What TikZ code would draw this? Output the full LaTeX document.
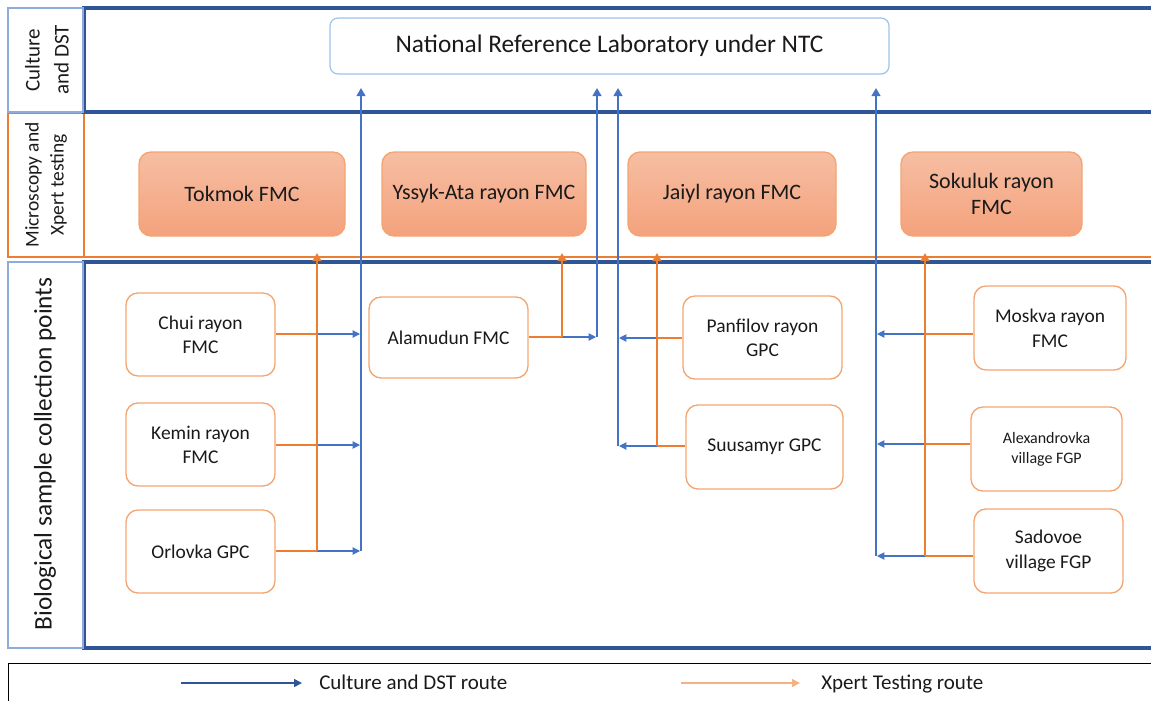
\documentclass[tikz,border=0pt]{standalone}
\usepackage{fontspec}
\setmainfont{Carlito}
\usetikzlibrary{arrows.meta}
\definecolor{frameblue}{HTML}{2F5597}
\definecolor{lineblue}{HTML}{4472C4}
\definecolor{lineorange}{HTML}{ED7D31}
\definecolor{boxorange}{HTML}{F4A470}
\definecolor{labblue}{HTML}{9DC3E6}
\definecolor{lblblue}{HTML}{8FAADC}
\definecolor{fillTop}{HTML}{F6BEA3}
\definecolor{fillBot}{HTML}{F4A27C}
\definecolor{legorange}{HTML}{F4B183}
\definecolor{txt}{HTML}{1A1A1A}
\begin{document}
\begin{tikzpicture}[x=0.75pt,y=-0.75pt,
  frame/.style={draw=frameblue,line width=2.3pt},
  lbl/.style={rotate=90,align=center,text=txt},
  site/.style={draw=boxorange,line width=1pt,rounded corners=9pt,align=center,text=txt,
    font=\fontsize{14.6}{18}\selectfont,inner sep=2pt},
  lab/.style={site,fill=none,shade,top color=fillTop,bottom color=fillBot,draw=boxorange,
    font=\fontsize{16.5}{20}\selectfont},
  bthick/.style={draw=lineblue,line width=1.9pt,-{Triangle[width=6.5pt,length=6pt]}},
  othick/.style={draw=lineorange,line width=1.8pt,-{Triangle[width=6.5pt,length=6pt]}},
  bthin/.style={draw=lineblue,line width=0.8pt,-{Triangle[width=5.5pt,length=5.5pt]}},
  othin/.style={draw=lineorange,line width=1.1pt},
  legtext/.style={anchor=base west,text=txt,font=\fontsize{15.75}{18}\selectfont,inner sep=0pt},
]
\useasboundingbox (0,0) rectangle (1151,700);
% bands
\draw[draw=lineorange,line width=0.8pt] (84,113) rectangle (1170,257);
\draw[draw=lineorange,line width=0.8pt] (8,113) rectangle (84,257);
\draw[frame] (84,8) rectangle (1170,112);
\draw[draw=lblblue,line width=0.8pt] (8,8) rectangle (83,112);
\draw[frame] (84,262) rectangle (1170,648);
\draw[draw=lblblue,line width=0.8pt] (8,262) rectangle (83,648);
\node[lbl,font=\fontsize{15.75}{21.75}\selectfont] (l1) at (47,60) {Culture\\and DST};
\node[lbl,font=\fontsize{14.6}{18.75}\selectfont] (l2) at (46,185) {Microscopy and\\Xpert testing};
\node[lbl,font=\fontsize{19}{22}\selectfont] (l3) at (45,454) {Biological sample collection points};
% top node
\node[draw=labblue,line width=0.9pt,rounded corners=6pt,minimum width={559*0.75pt},minimum height={56*0.75pt},
  text=txt,font=\fontsize{19}{22}\selectfont] (nrl) at (609.5,46) {National Reference Laboratory under NTC};
% middle nodes
\node[lab,minimum width={206*0.75pt},minimum height={84*0.75pt}] (tok) at (242,194) {Tokmok FMC};
\node[lab,minimum width={204*0.75pt},minimum height={84*0.75pt}] (yss) at (484,194) {Yssyk-Ata rayon FMC};
\node[lab,minimum width={208*0.75pt},minimum height={84*0.75pt}] (jai) at (732,194) {Jaiyl rayon FMC};
\node[lab,minimum width={181*0.75pt},minimum height={84*0.75pt}] (sok) at (991.5,194) {Sokuluk rayon\\FMC};
% collection points
\node[site,minimum width={149*0.75pt},minimum height={83*0.75pt}] (chui) at (200.5,334.5) {Chui rayon\\FMC};
\node[site,minimum width={149*0.75pt},minimum height={83*0.75pt}] (kem) at (200.5,444.5) {Kemin rayon\\FMC};
\node[site,minimum width={149*0.75pt},minimum height={83*0.75pt}] (orl) at (200.5,551.5) {Orlovka GPC};
\node[site,minimum width={159*0.75pt},minimum height={81*0.75pt}] (ala) at (448.5,337.5) {Alamudun FMC};
\node[site,minimum width={159*0.75pt},minimum height={83*0.75pt}] (pan) at (762.5,337.5) {Panfilov rayon\\GPC};
\node[site,minimum width={157*0.75pt},minimum height={84*0.75pt}] (suu) at (764.5,447) {Suusamyr GPC};
\node[site,minimum width={152*0.75pt},minimum height={84*0.75pt},font=\fontsize{14.6}{18.75}\selectfont] (mos) at (1050,328) {Moskva rayon\\FMC};
\node[site,minimum width={151*0.75pt},minimum height={84*0.75pt},font=\fontsize{12}{15}\selectfont] (alx) at (1046.5,449) {Alexandrovka\\village FGP};
\node[site,minimum width={149*0.75pt},minimum height={84*0.75pt},font=\fontsize{14.6}{18.75}\selectfont] (sad) at (1048.5,551) {Sadovoe\\village FGP};
% junction coordinates
\coordinate (oC) at (317,334); \coordinate (bC) at (360,334);
\coordinate (oK) at (317,445); \coordinate (bK) at (360,445);
\coordinate (oO) at (317,551); \coordinate (bO) at (360,551);
\coordinate (bO2) at (361,551); \coordinate (bT1) at (361,88); \coordinate (oT1) at (317,253);
\coordinate (oA) at (562,337); \coordinate (bA) at (596,337);
\coordinate (bA2) at (597,337); \coordinate (bT2) at (597,88); \coordinate (oT2) at (562,253);
\coordinate (oP) at (657,338); \coordinate (bP) at (619,338);
\coordinate (oS) at (657,446); \coordinate (bS) at (619,446);
\coordinate (bS2) at (618,446); \coordinate (bT3) at (618,88); \coordinate (oT3) at (657,253);
\coordinate (oM) at (925,334); \coordinate (bM) at (877,334);
\coordinate (oX) at (925,444); \coordinate (bX) at (877,444);
\coordinate (oD) at (925,556); \coordinate (bD) at (877,556);
\coordinate (bD2) at (876,556); \coordinate (bT4) at (876,88); \coordinate (oT4) at (925,253);
% left group
\draw[othin] (chui.east |- oC) -- (oC);
\draw[othin] (kem.east |- oK) -- (oK);
\draw[othin] (orl.east |- oO) -- (oO);
\draw[bthin] (oC) -- (bC);
\draw[bthin] (oK) -- (bK);
\draw[bthin] (oO) -- (bO);
\draw[othick] (oO) -- (oT1);
\draw[bthick] (bO2) -- (bT1);
% alamudun
\draw[othin] (ala.east |- oA) -- (oA);
\draw[bthin] (oA) -- (bA);
\draw[othick] (oA) -- (oT2);
\draw[bthick] (bA2) -- (bT2);
% panfilov / suusamyr
\draw[othin] (pan.west |- oP) -- (oP);
\draw[othin] (suu.west |- oS) -- (oS);
\draw[bthin] (oP) -- (bP);
\draw[bthin] (oS) -- (bS);
\draw[othick] (oS) -- (oT3);
\draw[bthick] (bS2) -- (bT3);
% right group
\draw[othin] (mos.west |- oM) -- (oM);
\draw[othin] (alx.west |- oX) -- (oX);
\draw[othin] (sad.west |- oD) -- (oD);
\draw[bthin] (oM) -- (bM);
\draw[bthin] (oX) -- (bX);
\draw[bthin] (oD) -- (bD);
\draw[othick] (oD) -- (oT4);
\draw[bthick] (bD2) -- (bT4);
% legend
\draw[draw=black,line width=0.6pt] (8,663) rectangle (1170,712);
\coordinate (lb1) at (181,683); \coordinate (lb2) at (302,683);
\coordinate (lo1) at (681,683); \coordinate (lo2) at (800,683);
\draw[draw=frameblue,line width=1.2pt,-{Triangle[width=6pt,length=6pt]}] (lb1) -- (lb2);
\draw[draw=legorange,line width=1.2pt,-{Triangle[width=6pt,length=6pt]}] (lo1) -- (lo2);
\node[legtext] (lt1) at (319,689) {Culture and DST route};
\node[legtext] (lt2) at (821,689) {Xpert Testing route};
\end{tikzpicture}
\end{document}
